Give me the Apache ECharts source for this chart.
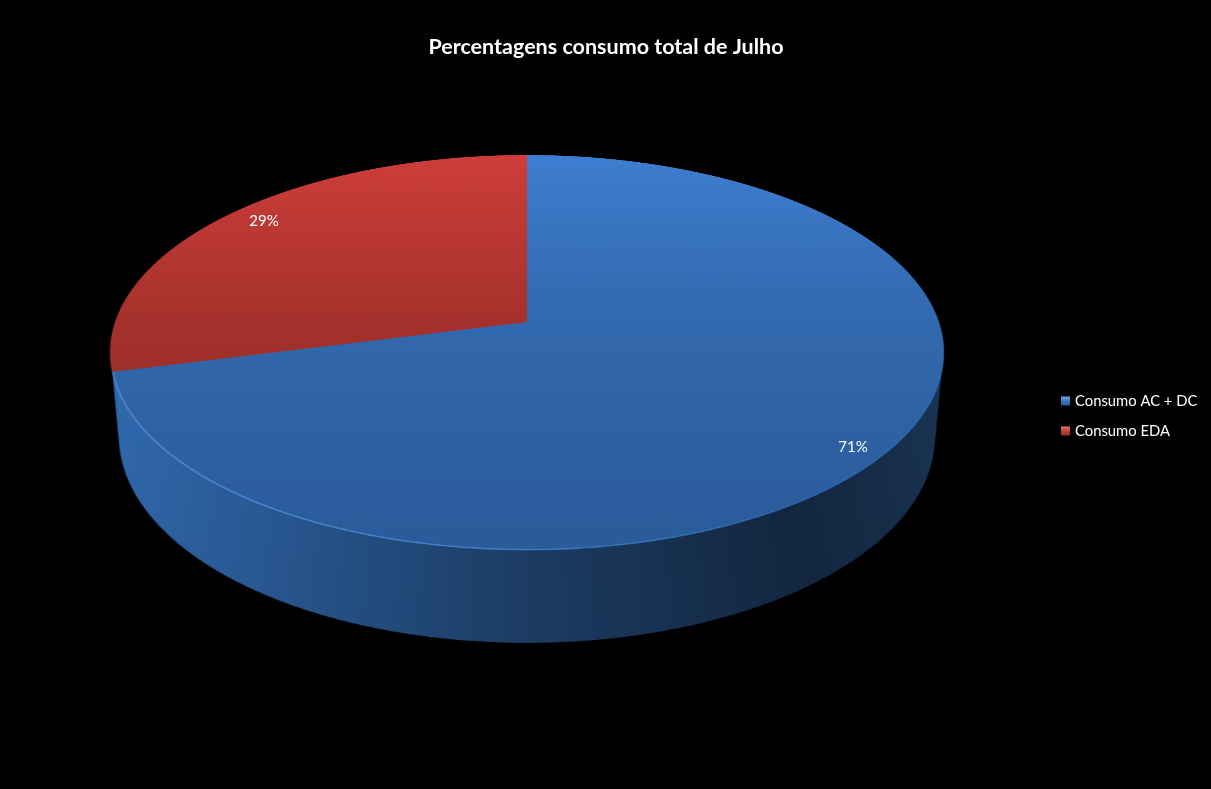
<!DOCTYPE html>
<html>
<head>
<meta charset="utf-8">
<style>
html,body{margin:0;padding:0;background:#000;width:1211px;height:789px;overflow:hidden}
#pie3d{position:absolute;left:-23px;top:-228px;width:1100px;height:1100px;transform-origin:550px 550px}
#front{position:absolute;left:0;top:0;width:1211px;height:789px}
</style>
<script src="https://cdn.jsdelivr.net/npm/echarts@6/dist/echarts.min.js"></script>
</head>
<body>
<div id="pie3d"></div>
<div id="front"></div>
<script>
const titleText = 'Percentagens consumo total de Julho';
const categories = ['Consumo AC + DC', 'Consumo EDA'];
const percentages = [71, 29];

// perspective of the disc
const R = 400, C = 550;
const tilt = 0.1523 / R;
document.getElementById('pie3d').style.transform =
  `matrix3d(${411 / R},0,0,0, 0,${192.4 / R},0,${-tilt}, 0,0,1,0, 0,0,0,1)`;

const LG = echarts.graphic.LinearGradient;
const stops = a => a.map(([offset, color]) => ({ offset, color }));
const vGrad = a => new LG(0, C - R, 0, C + R, stops(a), true);
const hGrad = a => new LG(C - R, 0, C + R, 0, stops(a), true);

const blueTop = vGrad([[0, '#3e7ed0'], [0.5, '#3369ae'], [1, '#2a5b9b']]);
const redTop = vGrad([[0, '#cf3e3a'], [0.55, '#a2302b'], [1, '#8c2a26']]);
const blueWall = hGrad([[0, '#316bb1'], [0.2, '#2a5a96'], [0.5, '#1c3c63'], [0.78, '#12263e'], [1, '#1b3656']]);
const edge = hGrad([[0, '#4f8fdc'], [0.45, '#4682cf'], [0.75, '#2f6ab3'], [1, '#2f6ab3']]);

const disc = (name, cy, r, colors, z) => ({
  type: 'pie', name, silent: true, animation: false, z,
  center: [C, cy], radius: [0, r], startAngle: 90,
  label: { show: false }, labelLine: { show: false },
  itemStyle: { borderWidth: 0 },
  data: percentages.map((value, i) => ({ value, name: categories[i], itemStyle: { color: colors[i] } }))
});

const layers = [];
const STEPS = 140, WALL_SHIFT = 164, WALL_R = 368;
for (let i = STEPS; i >= 1; i--) {
  const t = i / STEPS;
  layers.push(disc('wall' + i, C + WALL_SHIFT * t, R + (WALL_R - R) * t, [blueWall, blueWall], 1));
}
layers.push(disc('edge', C + 1, R + 1, [edge, '#a2302b'], 2));
layers.push(disc('top', C, R, [blueTop, redTop], 3));

const back = echarts.init(document.getElementById('pie3d'), null, { devicePixelRatio: 2 });
back.setOption({ backgroundColor: 'transparent', animation: false, series: layers });

const labelSpots = [[853, 447], [264, 221]];
const legendColors = [
  new LG(0, 0, 0, 1, stops([[0, '#6fa5e6'], [0.5, '#3a78c4'], [1, '#2a5b9b']])),
  new LG(0, 0, 0, 1, stops([[0, '#e87470'], [0.5, '#c43c38'], [1, '#97302b']]))
];
const front = echarts.init(document.getElementById('front'));
const font = 'Lato, "Open Sans", sans-serif';
front.setOption({
  backgroundColor: 'transparent',
  animation: false,
  title: {
    text: titleText, left: 601, top: 31, textAlign: 'center',
    textStyle: { color: '#fff', fontFamily: font, fontSize: 21.5, fontWeight: 'bold' }
  },
  legend: {
    orient: 'vertical', left: 1056, top: 387, itemWidth: 9, itemHeight: 9, itemGap: 12,
    icon: 'rect',
    textStyle: { color: '#fff', fontFamily: font, fontSize: 14.8, lineHeight: 18 },
    data: categories.map((name, i) => ({ name, itemStyle: { color: legendColors[i], opacity: 1 } }))
  },
  series: [{
    type: 'pie', silent: true, center: [527, 322], radius: [0, 20], startAngle: 90,
    itemStyle: { opacity: 0 },
    label: {
      show: true, position: 'inside', formatter: p => p.value + '%', opacity: 1,
      color: '#fff', fontFamily: font, fontSize: 15
    },
    labelLine: { show: false },
    labelLayout: p => ({ x: labelSpots[p.dataIndex][0], y: labelSpots[p.dataIndex][1], align: 'center', verticalAlign: 'middle' }),
    data: percentages.map((value, i) => ({ value, name: categories[i] }))
  }]
});
</script>
</body>
</html>
